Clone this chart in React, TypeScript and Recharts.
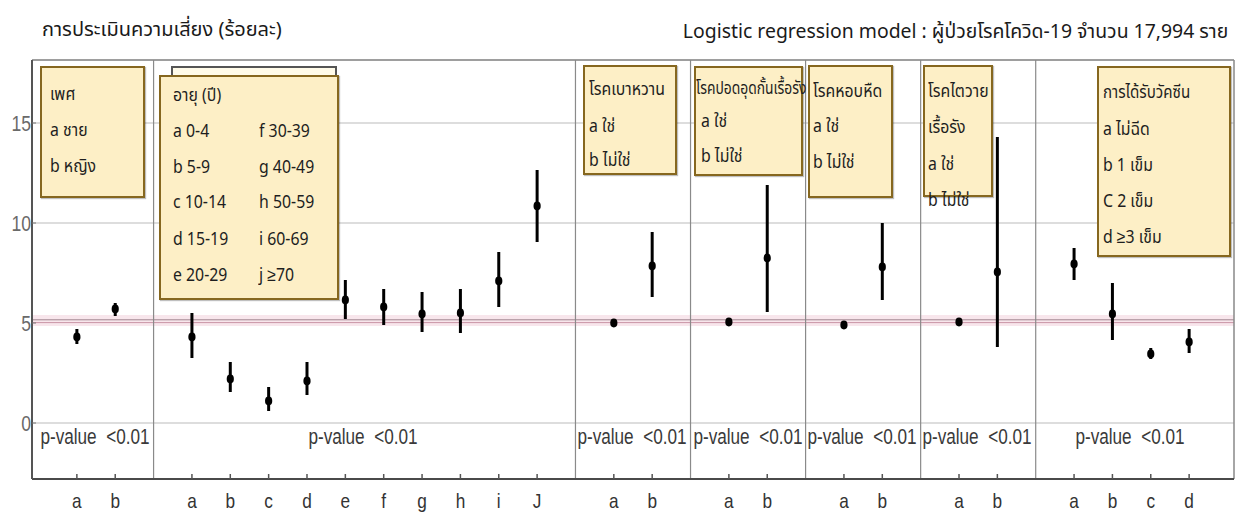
import React from 'react';
import {
  ErrorBar,
  ReferenceArea,
  ReferenceLine,
  Scatter,
  ScatterChart,
  CartesianGrid,
  XAxis,
  YAxis,
} from 'recharts';

// Groups of categories (sex, age, diabetes, COPD, asthma, CKD, vaccine)
const GROUP_SIZES = [2, 10, 2, 2, 2, 2, 4];
const TICK_LABELS = [
  'a', 'b',
  'a', 'b', 'c', 'd', 'e', 'f', 'g', 'h', 'i', 'J',
  'a', 'b',
  'a', 'b',
  'a', 'b',
  'a', 'b',
  'a', 'b', 'c', 'd',
];
const ESTIMATE = [
  4.3, 5.7,
  4.3, 2.2, 1.1, 2.1, 6.15, 5.8, 5.45, 5.5, 7.1, 10.85,
  5.0, 7.85,
  5.05, 8.25,
  4.9, 7.8,
  5.05, 7.55,
  7.95, 5.45, 3.45, 4.05,
];
const LOWER = [
  3.95, 5.35,
  3.25, 1.55, 0.6, 1.4, 5.2, 4.9, 4.55, 4.5, 5.8, 9.05,
  4.92, 6.3,
  4.97, 5.55,
  4.82, 6.15,
  4.97, 3.8,
  7.15, 4.15, 3.2, 3.5,
];
const UPPER = [
  4.7, 6.0,
  5.5, 3.05, 1.8, 3.05, 7.15, 6.7, 6.55, 6.7, 8.55, 12.65,
  5.08, 9.55,
  5.13, 11.9,
  4.98, 10.0,
  5.13, 14.3,
  8.75, 7.0, 3.75, 4.7,
];
const Y_TICKS = [0, 5, 10, 15];

// Liberation Sans squeezed horizontally stands in for Arial Narrow
const SANS = '"Liberation Sans", Arial, sans-serif';
const THAI = 'Tahoma, "Noto Sans Thai", "Noto Sans", sans-serif';
const NARROW_X = 0.8;

// slot positions: one empty slot between groups for the separator line
const positions: number[] = [];
const separators: number[] = [];
{
  let slot = 1;
  GROUP_SIZES.forEach((n, g) => {
    for (let i = 0; i < n; i++) positions.push(slot++);
    if (g < GROUP_SIZES.length - 1) separators.push(slot++);
  });
}

const points = ESTIMATE.map((v, i) => ({
  x: positions[i],
  y: v,
  err: [v - LOWER[i], UPPER[i] - v],
  label: TICK_LABELS[i],
}));

const X_DOMAIN: [number, number] = [-0.17, 31.17];
const Y_DOMAIN: [number, number] = [-2.8, 18.15];

function XTick(props: any) {
  const { x, y, payload } = props;
  const idx = positions.indexOf(payload.value);
  return (
    <g>
      <line x1={x} x2={x} y1={y - 5} y2={y} stroke="#555" strokeWidth={1.5} />
      <text
        transform={`translate(${x},${y + 29}) scale(0.82,1)`}
        textAnchor="middle"
        fontFamily={SANS}
        fontSize={21}
        fill="#333"
      >
        {idx >= 0 ? TICK_LABELS[idx] : ''}
      </text>
    </g>
  );
}

function YTick(props: any) {
  const { x, y, payload } = props;
  return (
    <g>
      <line x1={x} x2={x + 4} y1={y} y2={y} stroke="#777" />
      <text
        transform={`translate(${x - 1},${y + 8}) scale(${NARROW_X},1)`}
        textAnchor="end"
        fontFamily={SANS}
        fontSize={22}
        fill="#6a6a6a"
      >
        {payload.value}
      </text>
    </g>
  );
}

type BoxLine = { t: string; x: number; y: number; sx?: number };
type Box = { left: number; top: number; w: number; h: number; lines: BoxLine[] };

const BOXES: Box[] = [
  {
    left: 40, top: 66, w: 105, h: 132,
    lines: [
      { t: 'เพศ', x: 50, y: 95 },
      { t: 'a ชาย', x: 50, y: 131 },
      { t: 'b หญิง', x: 50, y: 167 },
    ],
  },
  {
    left: 159, top: 75, w: 180, h: 225,
    lines: [
      { t: 'อายุ (ปี)', x: 173, y: 96 },
      { t: 'a 0-4', x: 173, y: 132 },
      { t: 'b 5-9', x: 173, y: 168 },
      { t: 'c 10-14', x: 173, y: 203 },
      { t: 'd 15-19', x: 173, y: 240 },
      { t: 'e 20-29', x: 173, y: 276 },
      { t: 'f 30-39', x: 259, y: 132 },
      { t: 'g 40-49', x: 259, y: 168 },
      { t: 'h 50-59', x: 259, y: 203 },
      { t: 'i 60-69', x: 259, y: 240 },
      { t: 'j ≥70', x: 259, y: 276 },
    ],
  },
  {
    left: 583, top: 65, w: 94, h: 110,
    lines: [
      { t: 'โรคเบาหวาน', x: 589, y: 90 },
      { t: 'a ใช่', x: 589, y: 127 },
      { t: 'b ไม่ใช่', x: 589, y: 161 },
    ],
  },
  {
    left: 694, top: 66, w: 109, h: 110,
    lines: [
      { t: 'โรคปอดอุดกั้นเรื้อรัง', x: 696, y: 89, sx: 0.77 },
      { t: 'a ใช่', x: 701, y: 122 },
      { t: 'b ไม่ใช่', x: 701, y: 157 },
    ],
  },
  {
    left: 808, top: 65, w: 85, h: 133,
    lines: [
      { t: 'โรคหอบหืด', x: 813, y: 92 },
      { t: 'a ใช่', x: 813, y: 127 },
      { t: 'b ไม่ใช่', x: 813, y: 163 },
    ],
  },
  {
    left: 923, top: 65, w: 70, h: 132,
    lines: [
      { t: 'โรคไตวาย', x: 928, y: 92 },
      { t: 'เรื้อรัง', x: 928, y: 128 },
      { t: 'a ใช่', x: 928, y: 165 },
      { t: 'b ไม่ใช่', x: 928, y: 201 },
    ],
  },
  {
    left: 1097, top: 66, w: 134, h: 191,
    lines: [
      { t: 'การได้รับวัคซีน', x: 1103, y: 93, sx: 0.84 },
      { t: 'a ไม่ฉีด', x: 1103, y: 130 },
      { t: 'b 1 เข็ม', x: 1103, y: 166 },
      { t: 'C 2 เข็ม', x: 1103, y: 202 },
      { t: 'd ≥3 เข็ม', x: 1103, y: 238 },
    ],
  },
];

// p-value notes: centre x of each group's text
const PVALUE_CENTERS = [95, 363, 632, 748, 862, 977, 1130];

const boxStyle = (b: Box): React.CSSProperties => ({
  position: 'absolute',
  left: b.left,
  top: b.top,
  width: b.w,
  height: b.h,
  boxSizing: 'border-box',
  background: '#fdefc6',
  border: '2px solid #86671f',
  boxShadow: '1px 1px 1px rgba(0,0,0,0.25)',
});

export default function App() {
  return (
    <div
      style={{
        position: 'absolute',
        left: 0,
        top: 0,
        width: 1235,
        height: 512,
        background: '#fff',
        overflow: 'hidden',
      }}
    >
      <ScatterChart width={1235} height={512} margin={{ top: 60, right: 1, left: 0, bottom: 0 }}>
        <CartesianGrid vertical={false} stroke="#d2d2d2" strokeWidth={1.5} />
        <ReferenceArea y1={4.85} y2={5.4} fill="#f8e6ec" fillOpacity={1} stroke="none" />
        <XAxis
          type="number"
          dataKey="x"
          domain={X_DOMAIN}
          ticks={positions}
          interval={0}
          height={33}
          tickSize={0}
          tickMargin={0}
          tick={<XTick />}
          axisLine={{ stroke: '#4a4a4a', strokeWidth: 2 }}
          tickLine={false}
          allowDataOverflow
        />
        <YAxis
          type="number"
          dataKey="y"
          domain={Y_DOMAIN}
          ticks={Y_TICKS}
          width={32}
          tickSize={0}
          tickMargin={0}
          tick={<YTick />}
          axisLine={{ stroke: '#555', strokeWidth: 2 }}
          tickLine={false}
          allowDataOverflow
        />
        <ReferenceLine y={5.16} stroke="#a08590" strokeWidth={1} />
        <ReferenceLine y={5.02} stroke="#c995a6" strokeWidth={1} />
        {separators.map((s) => (
          <ReferenceLine key={s} x={s} stroke="#8a8a8a" strokeWidth={1.2} />
        ))}
        <ReferenceLine y={Y_DOMAIN[1]} stroke="#888" strokeWidth={1.5} />
        <ReferenceLine x={X_DOMAIN[1]} stroke="#888" strokeWidth={1.5} />
        <Scatter
          data={points}
          fill="#000"
          isAnimationActive={false}
          shape={(p: any) => <ellipse cx={p.cx} cy={p.cy} rx={3.6} ry={4.4} fill="#000" />}
        >
          <ErrorBar dataKey="err" direction="y" width={0} stroke="#000" strokeWidth={3} />
        </Scatter>
      </ScatterChart>

      {PVALUE_CENTERS.map((cx, i) => (
        <div
          key={i}
          style={{
            position: 'absolute',
            left: cx - 80,
            top: 423,
            width: 160,
            height: 28,
            lineHeight: '28px',
            fontFamily: SANS,
            fontSize: 22,
            color: '#3a3a3a',
            whiteSpace: 'pre',
            textAlign: 'center',
            transform: 'scaleX(0.78)',
            transformOrigin: 'center center',
          }}
        >
          {'p-value  <0.01'}
        </div>
      ))}

      {/* second frame peeking above the age box */}
      <div
        style={{
          position: 'absolute',
          left: 171,
          top: 66,
          width: 166,
          height: 20,
          boxSizing: 'border-box',
          background: '#fffbe9',
          border: '2px solid #555',
        }}
      />
      {BOXES.map((b, i) => (
        <div key={i} style={boxStyle(b)} />
      ))}
      {BOXES.flatMap((b, i) =>
        b.lines.map((ln, j) => (
          <div
            key={`${i}-${j}`}
            style={{
              position: 'absolute',
              left: ln.x,
              top: ln.y - 14,
              height: 28,
              lineHeight: '28px',
              fontFamily: THAI,
              fontSize: 18,
              color: '#1e1e1e',
              whiteSpace: 'nowrap',
              transform: `scaleX(${ln.sx ?? 0.88})`,
              transformOrigin: 'left center',
            }}
          >
            {ln.t}
          </div>
        )),
      )}

      <div
        style={{
          position: 'absolute',
          left: 42,
          top: 15,
          height: 30,
          lineHeight: '30px',
          fontFamily: THAI,
          fontSize: 20,
          color: '#1a1a1a',
          whiteSpace: 'nowrap',
        }}
      >
        การประเมินความเสี่ยง (ร้อยละ)
      </div>
      <div
        style={{
          position: 'absolute',
          right: 7,
          top: 17,
          height: 30,
          lineHeight: '30px',
          fontFamily: THAI,
          fontSize: 20,
          color: '#1a1a1a',
          whiteSpace: 'nowrap',
          transform: 'scaleX(0.97)',
          transformOrigin: 'right center',
        }}
      >
        Logistic regression model : ผู้ป่วยโรคโควิด-19 จำนวน 17,994 ราย
      </div>
    </div>
  );
}
